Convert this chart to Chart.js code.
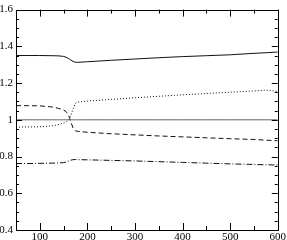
<!DOCTYPE html>
<html>
<head>
<meta charset="utf-8">
<script src="https://cdn.jsdelivr.net/npm/chart.js@4/dist/chart.umd.min.js"></script>
<style>
  html, body { margin: 0; padding: 0; background: #fff; }
  #wrap { width: 287px; height: 240px; }
</style>
</head>
<body>
<div id="wrap"><canvas id="c" width="287" height="240"></canvas></div>
<script>
// values
const xValues   = [50, 75, 100, 125, 140, 150, 155, 160, 165, 170, 175, 180, 200, 250, 300, 350, 400, 450, 500, 550, 575, 600];
const solidY    = [1.350, 1.350, 1.350, 1.349, 1.348, 1.345, 1.341, 1.334, 1.326, 1.318, 1.313, 1.313, 1.316, 1.324, 1.331, 1.338, 1.344, 1.349, 1.354, 1.362, 1.365, 1.369];
const dottedY   = [0.960, 0.961, 0.962, 0.967, 0.974, 0.982, 0.988, 0.997, 1.020, 1.060, 1.090, 1.097, 1.102, 1.111, 1.120, 1.128, 1.136, 1.143, 1.150, 1.157, 1.162, 1.155];
const dashedY   = [1.077, 1.077, 1.076, 1.070, 1.062, 1.053, 1.045, 1.030, 0.990, 0.955, 0.940, 0.937, 0.932, 0.924, 0.918, 0.912, 0.907, 0.902, 0.897, 0.893, 0.889, 0.886];
const dashDotY  = [0.762, 0.762, 0.763, 0.764, 0.765, 0.767, 0.770, 0.775, 0.780, 0.783, 0.784, 0.783, 0.782, 0.779, 0.776, 0.772, 0.768, 0.764, 0.760, 0.757, 0.755, 0.754];
const refLineY  = 1;

const xTicks = [100, 200, 300, 400, 500, 600];
const xMinor = [150, 250, 350, 450, 550];
const yTicks = [0.4, 0.6, 0.8, 1.0, 1.2, 1.4, 1.6];

const toPts = ys => xValues.map((x, i) => ({ x: x, y: ys[i] }));
const tickFont = { family: "'Liberation Serif', 'Times New Roman', serif", size: 11 };

// inward ticks on all four sides plus the frame
const frameTicks = {
    id: 'frameTicks',
    afterDraw(chart) {
        const ctx = chart.ctx;
        const a = chart.chartArea;
        const xs = chart.scales.x, ys = chart.scales.y;
        ctx.save();
        ctx.strokeStyle = '#000';
        ctx.lineWidth = 1;
        ctx.strokeRect(Math.round(a.left) + 0.5, Math.round(a.top) + 0.5,
            Math.round(a.right - a.left), Math.round(a.bottom - a.top));
        ctx.beginPath();
        const xt = (v, len) => {
            const p = Math.round(xs.getPixelForValue(v)) + 0.5;
            ctx.moveTo(p, a.bottom); ctx.lineTo(p, a.bottom - len);
            ctx.moveTo(p, a.top); ctx.lineTo(p, a.top + len);
        };
        const yt = (v, len) => {
            const p = Math.round(ys.getPixelForValue(v)) + 0.5;
            ctx.moveTo(a.left, p); ctx.lineTo(a.left + len, p);
            ctx.moveTo(a.right, p); ctx.lineTo(a.right - len, p);
        };
        xTicks.forEach(v => xt(v, 7));
        xMinor.forEach(v => xt(v, 4));
        yTicks.forEach(v => yt(v, 6));
        for (let v = 0.45; v < 1.6; v += 0.2) {
            yt(v, 3); yt(v + 0.05, 3); yt(v + 0.1, 3);
        }
        ctx.stroke();
        ctx.restore();
    }
};

const line = (ys, dash, color) => ({
    data: toPts(ys),
    borderColor: color || '#111',
    borderWidth: 1,
    borderDash: dash,
    pointRadius: 0,
    tension: 0,
    fill: false
});

new Chart(document.getElementById('c'), {
    type: 'line',
    data: {
        datasets: [
            line(xValues.map(() => refLineY), [], '#666'),
            line(solidY, []),
            line(dottedY, [1, 2]),
            line(dashedY, [5, 3]),
            line(dashDotY, [6, 2, 1, 2])
        ]
    },
    options: {
        responsive: false,
        animation: false,
        layout: { padding: { top: 4, right: 8, left: 0, bottom: 0 } },
        plugins: { legend: { display: false }, tooltip: { enabled: false } },
        scales: {
            x: {
                type: 'linear',
                min: 50,
                max: 600,
                grid: { display: false, drawTicks: false },
                border: { display: false },
                afterBuildTicks: s => { s.ticks = xTicks.map(v => ({ value: v })); },
                afterFit: s => { s.height = 10; },
                ticks: {
                    padding: 1,
                    maxRotation: 0,
                    color: '#000',
                    font: tickFont
                }
            },
            y: {
                min: 0.4,
                max: 1.6,
                grid: { display: false, drawTicks: false },
                border: { display: false },
                afterBuildTicks: s => { s.ticks = yTicks.map(v => ({ value: v })); },
                afterFit: s => { s.width = 16; },
                ticks: {
                    padding: 3,
                    color: '#000',
                    font: tickFont,
                    callback: v => String(Math.round(v * 10) / 10)
                }
            }
        }
    },
    plugins: [frameTicks]
});
</script>
</body>
</html>
